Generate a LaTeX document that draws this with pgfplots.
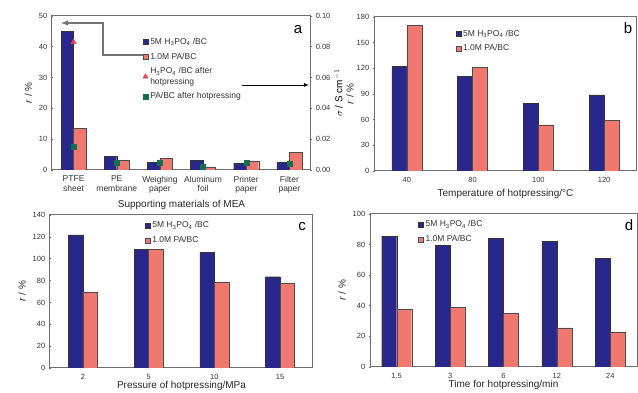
\documentclass[border=0pt]{standalone}
\usepackage{fontspec}
\setmainfont{Liberation Sans}
\usepackage{pgfplots}
\pgfplotsset{compat=1.18}
\definecolor{barblue}{RGB}{40,40,140}
\definecolor{barsalmon}{RGB}{240,120,110}
\definecolor{mkgreen}{RGB}{20,110,80}
\definecolor{mkred}{RGB}{235,60,80}
\definecolor{framegray}{RGB}{110,110,110}
\pgfplotsset{
  panel/.style={
    scale only axis,
    axis line style={framegray, line width=1pt},
    /pgf/number format/assume math mode=true,
    tick label style={font=\fontsize{7.5}{8.5}\selectfont, text=black!80},
    label style={font=\fontsize{10}{11}\selectfont, text=black!85},
    major tick length=2.5pt,
    tick align=center,
    ytick style={framegray, line width=0.6pt},
    xtick style={draw=none},
    ymin=0,
    legend style={draw=none, fill=none, font=\fontsize{8.5}{9.5}\selectfont, text=black!80, legend cell align=left, row sep=3pt, inner sep=0pt},
  },
  sqleg/.style={legend image code/.code={\draw[##1,/tikz/.cd] (0pt,-2.5pt) rectangle (5pt,2.5pt);}},
  markleg/.style={legend image code/.code={\draw[mark repeat=2,mark phase=2,##1] plot coordinates {(0pt,0pt)(2.5pt,0pt)(5pt,0pt)};}},
  bluebar/.style={fill=barblue, draw=black!80, line width=0.4pt, sqleg},
  salbar/.style={fill=barsalmon, draw=black!70, line width=0.4pt, sqleg},
}
\begin{document}
\begin{tikzpicture}
\useasboundingbox (0,0) rectangle (638pt,393pt);
% ---------------- panel a ----------------
\begin{axis}[panel, at={(52pt,223pt)}, anchor=south west, width=259pt, height=154pt,
  ybar=0pt, bar width=12.5pt, ytick pos=left,
  xmin=-0.5, xmax=5.5, ymax=50, ytick={0,10,...,50},
  xtick={0,...,5},
  xticklabels={{PTFE\\sheet},{PE\\membrane},{Weighing\\paper},{Aluminum\\foil},{Printer\\paper},{Filter\\paper}},
  xticklabel style={align=center, font=\fontsize{8.5}{9.5}\selectfont},
  xlabel={Supporting materials of MEA}, ylabel={\textit{r} / \%}]
\addplot[bluebar] coordinates {(0,45) (1,4.5) (2,2.5) (3,3.2) (4,2.2) (5,2.4)};
\addplot[salbar] coordinates {(0,13.5) (1,3.2) (2,3.8) (3,1.0) (4,3.0) (5,5.7)};
\end{axis}
\begin{axis}[panel, at={(52pt,223pt)}, anchor=south west, width=259pt, height=154pt,
  xmin=-0.5, xmax=5.5, ymin=0, ymax=0.1,
  axis x line=none, axis y line*=right, ytick pos=right, yticklabel pos=right,
  ytick={0,0.02,...,0.1},
  yticklabel style={/pgf/number format/.cd, fixed, fixed zerofill, precision=2},
  scaled y ticks=false,
  ylabel near ticks, ylabel shift=-3pt, ylabel={$\sigma$ / S cm$^{-1}$},
  legend style={at={(0.35,0.87)}, anchor=north west}]
\addlegendimage{bluebar}
\addlegendentry{5M H\textsubscript{3}PO\textsubscript{4} /BC}
\addlegendimage{salbar}
\addlegendentry{1.0M PA/BC}
\addplot[only marks, mark=triangle*, mark size=3pt, mkred, markleg]
  coordinates {(0,0.083)};
\addlegendentry{\shortstack[l]{H\textsubscript{3}PO\textsubscript{4} /BC after\\hotpressing}}
\addplot[only marks, mark=square*, mark size=2.5pt, mkgreen, markleg]
  coordinates {(0,0.015) (1,0.005) (2,0.005) (3,0.002) (4,0.005) (5,0.004)};
\addlegendentry{PA/BC after hotpressing}
\end{axis}
\draw[line width=1.4pt, black!55, -latex] (143pt,338pt) -- (103pt,338pt) -- (103pt,370pt) -- (61pt,370pt);
\draw[line width=0.8pt, black, -latex] (242pt,308pt) -- (309pt,308pt);
\node[anchor=center] at (298pt,363pt) {\fontsize{15}{15}\selectfont a};
% ---------------- panel b ----------------
\begin{axis}[panel, at={(374pt,222pt)}, anchor=south west, width=263pt, height=154pt,
  ybar=0pt, bar width=15pt, ytick pos=left,
  xmin=-0.5, xmax=3.5, ymax=180, ytick={0,30,...,180},
  xtick={0,1,2,3}, xticklabels={40,80,100,120},
  xlabel={Temperature of hotpressing/°C}, ylabel={\textit{r} / \%}, ylabel shift=-4pt,
  legend style={at={(0.31,0.93)}, anchor=north west}]
\addplot[bluebar] coordinates {(0,122) (1,111) (2,79) (3,89)};
\addlegendentry{5M H\textsubscript{3}PO\textsubscript{4} /BC}
\addplot[salbar] coordinates {(0,170) (1,121) (2,54) (3,59)};
\addlegendentry{1.0M PA/BC}
\end{axis}
\node[anchor=center] at (628pt,365pt) {\fontsize{15}{15}\selectfont b};
% ---------------- panel c ----------------
\begin{axis}[panel, at={(50pt,25pt)}, anchor=south west, width=263pt, height=153pt,
  ybar=0pt, bar width=14.5pt, ytick pos=left,
  xmin=-0.5, xmax=3.5, ymax=140, ytick={0,20,...,140},
  xtick={0,1,2,3}, xticklabels={2,5,10,15},
  xlabel={Pressure of hotpressing/MPa}, xlabel shift=-5pt, ylabel={\textit{r} / \%},
  legend style={at={(0.36,0.97)}, anchor=north west}]
\addplot[bluebar] coordinates {(0,121.7) (1,108.8) (2,105.5) (3,83.5)};
\addlegendentry{5M H\textsubscript{3}PO\textsubscript{4} /BC}
\addplot[salbar] coordinates {(0,69.7) (1,108.5) (2,78.9) (3,77.3)};
\addlegendentry{1.0M PA/BC}
\end{axis}
\node[anchor=center] at (302pt,166pt) {\fontsize{15}{15}\selectfont c};
% ---------------- panel d ----------------
\begin{axis}[panel, at={(370pt,26pt)}, anchor=south west, width=267pt, height=153pt,
  ybar=0pt, bar width=15pt, ytick pos=left,
  xmin=-0.5, xmax=4.5, ymax=100, ytick={0,20,...,100},
  xtick={0,...,4}, xticklabels={1.5,3,6,12,24},
  xlabel={Time for hotpressing/min}, xlabel shift=-5pt, ylabel={\textit{r} / \%},
  legend style={at={(0.18,0.97)}, anchor=north west}]
\addplot[bluebar] coordinates {(0,85.6) (1,79.7) (2,84) (3,82.3) (4,71)};
\addlegendentry{5M H\textsubscript{3}PO\textsubscript{4} /BC}
\addplot[salbar] coordinates {(0,37.8) (1,38.9) (2,34.9) (3,25.5) (4,22.9)};
\addlegendentry{1.0M PA/BC}
\end{axis}
\node[anchor=center] at (629pt,168pt) {\fontsize{15}{15}\selectfont d};
\end{tikzpicture}
\end{document}
